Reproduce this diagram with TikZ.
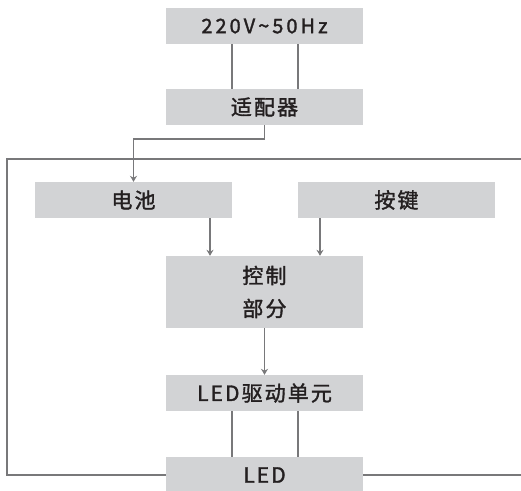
\documentclass[tikz,border=0pt]{standalone}
\usepackage{fontspec}
\setmainfont{Noto Sans CJK SC}[LetterSpace=10,FakeBold=1.6]
\usetikzlibrary{arrows.meta,calc}
\definecolor{boxgray}{RGB}{210,211,213}
\definecolor{wiregray}{RGB}{120,120,122}
\definecolor{inkdark}{RGB}{35,31,32}
\tikzset{
  blk/.style={fill=boxgray,text=inkdark,minimum width=197pt,minimum height=36pt,inner sep=0pt,
    font=\fontsize{21}{33}\selectfont,align=center},
  wire/.style={draw=wiregray,line width=1.5pt},
  frame/.style={draw=wiregray,line width=1.8pt},
  arr/.style={wire,-{Stealth[length=6pt,width=7pt]}}
}
\begin{document}
\begin{tikzpicture}[x=1pt,y=-1pt]
      \useasboundingbox (0,0) rectangle (521,490);
      \node[blk,font=\fontsize{20}{22}\selectfont\addfontfeature{LetterSpace=15}] (power) at (264.5,26) {220V\textasciitilde50Hz};
      \node[blk] (adapter) at (264.5,107) {适配器};
      \node[blk] (battery) at (133.5,200) {电池};
      \node[blk] (keys) at (396.5,200) {按键};
      \node[blk,minimum height=72pt] (ctrl) at (264.5,292) {控制\\部分};
      \node[blk] (driver) at (264.5,393) {LED驱动单元};
      \node[blk] (led) at (264.5,475) {LED};
      \coordinate (frameL) at (7,159);
      \coordinate (frameR) at (530,159);
      \coordinate (ledR) at (530,475);
      \draw[wire] (power.south -| battery.east)--(adapter.north -| battery.east);
      \draw[wire] (power.south -| keys.west)--(adapter.north -| keys.west);
      \draw[arr] (adapter.south)--++(0,14)-|(battery.north);
      \draw[arr] ([xshift=76.5pt]battery.south)--([xshift=76.5pt]battery.south |- ctrl.north);
      \draw[arr] ([xshift=-76.5pt]keys.south)--([xshift=-76.5pt]keys.south |- ctrl.north);
      \draw[arr] (ctrl.south)--(driver.north);
      \draw[wire] (driver.south -| battery.east)--(led.north -| battery.east);
      \draw[wire] (driver.south -| keys.west)--(led.north -| keys.west);
      \draw[frame] (led.west)-|(frameL)--(frameR);
      \draw[frame] (led.east)--(ledR);
\end{tikzpicture}
\end{document}
